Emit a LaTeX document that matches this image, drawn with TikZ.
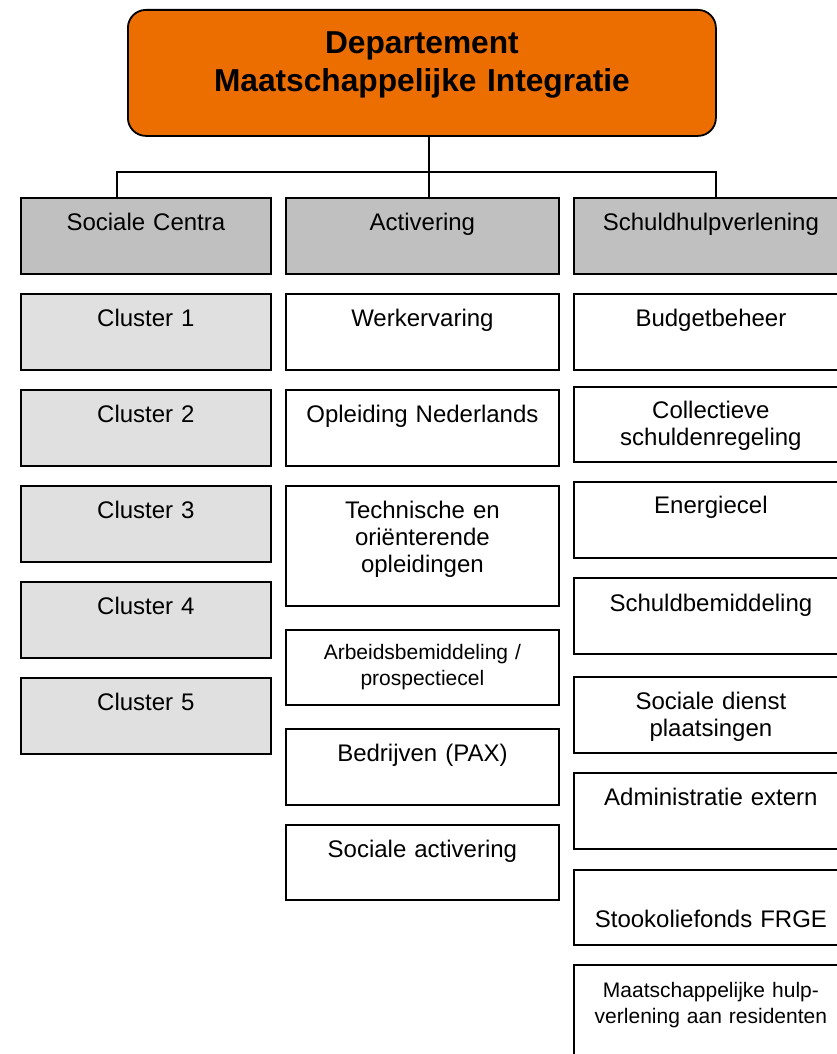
\documentclass[tikz,border=0pt]{standalone}
\usepackage{fontspec}
\setmainfont{Liberation Sans}

\definecolor{dmiorange}{RGB}{236,110,0}
\definecolor{headgray}{RGB}{192,192,192}
\definecolor{clusgray}{RGB}{224,224,224}

\newcommand\fsnormal{\fontsize{24pt}{27pt}\selectfont}
\newcommand\fssmall{\fontsize{21pt}{26pt}\selectfont}
\newcommand\fstitle{\fontsize{31.7pt}{38pt}\selectfont\bfseries}

\tikzset{
  unit/.style={draw, line width=1.8pt, anchor=north west, inner sep=0pt, minimum height=76pt},
  head/.style={unit, fill=headgray},
  clus/.style={unit, fill=clusgray, minimum width=250pt},
  act/.style={unit, fill=white, minimum width=273pt},
  sch/.style={unit, fill=white, minimum width=274pt},
  txt/.style={anchor=base, text width=262pt, align=center, inner sep=0pt, font=\fsnormal, yshift=-33pt},
  conn/.style={line width=1.8pt},
}

\begin{document}
\begin{tikzpicture}[x=1pt,y=-1pt]
  \useasboundingbox (0,0) rectangle (837,1054);
  \clip (0,0) rectangle (837,1054);
  % department
  \node[unit, fill=dmiorange, rounded corners=18pt, minimum width=588pt, minimum height=126pt,
        label={[txt, text width=580pt, font=\fstitle, yshift=-12pt]north:Departement\\Maatschappelijke Integratie}] (top) at (127,9) {};

  % three divisions
  \node[head, minimum width=250pt, label={[txt]north:Sociale Centra}] (centra) at (20,197) {};
  \node[head, minimum width=273pt, label={[txt]north:Activering}] (activ) at (285,197) {};
  \node[head, minimum width=274pt, label={[txt]north:Schuldhulpverlening}] (schuld) at (573,197) {};

  % connectors
  \coordinate (bus) at (0,172);
  \draw[conn] ([xshift=7pt]top.south) -- ([xshift=7pt]top.south |- activ.north);
  \draw[conn] ([xshift=-29pt]centra.north) -- ([xshift=-29pt]centra.north |- bus)
              -- ([xshift=5pt]schuld.north |- bus) -- ([xshift=5pt]schuld.north);

  % Sociale Centra
  \node[clus, label={[txt]north:Cluster 1}] (cl1) at (20,293) {};
  \node[clus, label={[txt]north:Cluster 2}] (cl2) at (20,389) {};
  \node[clus, label={[txt]north:Cluster 3}] (cl3) at (20,485) {};
  \node[clus, label={[txt]north:Cluster 4}] (cl4) at (20,581) {};
  \node[clus, label={[txt]north:Cluster 5}] (cl5) at (20,677) {};

  % Activering
  \node[act, label={[txt]north:Werkervaring}] (werk) at (285,293) {};
  \node[act, label={[txt]north:Opleiding Nederlands}] (nl) at (285,389) {};
  \node[act, minimum height=120pt, label={[txt]north:Technische en\\oriënterende\\opleidingen}] (tech) at (285,485) {};
  \node[act, minimum height=75pt, label={[txt, font=\fssmall, yshift=3pt]north:Arbeidsbemiddeling /\\prospectiecel}] (arb) at (285,629) {};
  \node[act, label={[txt]north:Bedrijven (PAX)}] (pax) at (285,728) {};
  \node[act, minimum height=75pt, label={[txt]north:Sociale activering}] (socact) at (285,824) {};

  % Schuldhulpverlening
  \node[sch, label={[txt]north:Budgetbeheer}] (budget) at (573,293) {};
  \node[sch, minimum height=75pt, label={[txt, yshift=1pt]north:Collectieve\\schuldenregeling}] (csr) at (573,386) {};
  \node[sch, label={[txt, yshift=1pt]north:Energiecel}] (energie) at (573,481) {};
  \node[sch, label={[txt, yshift=-1pt]north:Schuldbemiddeling}] (bemid) at (573,577) {};
  \node[sch, label={[txt]north:Sociale dienst\\plaatsingen}] (sdp) at (573,676) {};
  \node[sch, label={[txt]north:Administratie extern}] (admin) at (573,772) {};
  \node[sch, minimum height=75pt, label={[txt, yshift=-25pt]north:Stookoliefonds FRGE}] (frge) at (573,869) {};
  \node[sch, minimum height=110pt, label={[txt, font=\fssmall]north:Maatschappelijke hulp-\\verlening aan residenten}] (resid) at (573,964) {};
\end{tikzpicture}
\end{document}
